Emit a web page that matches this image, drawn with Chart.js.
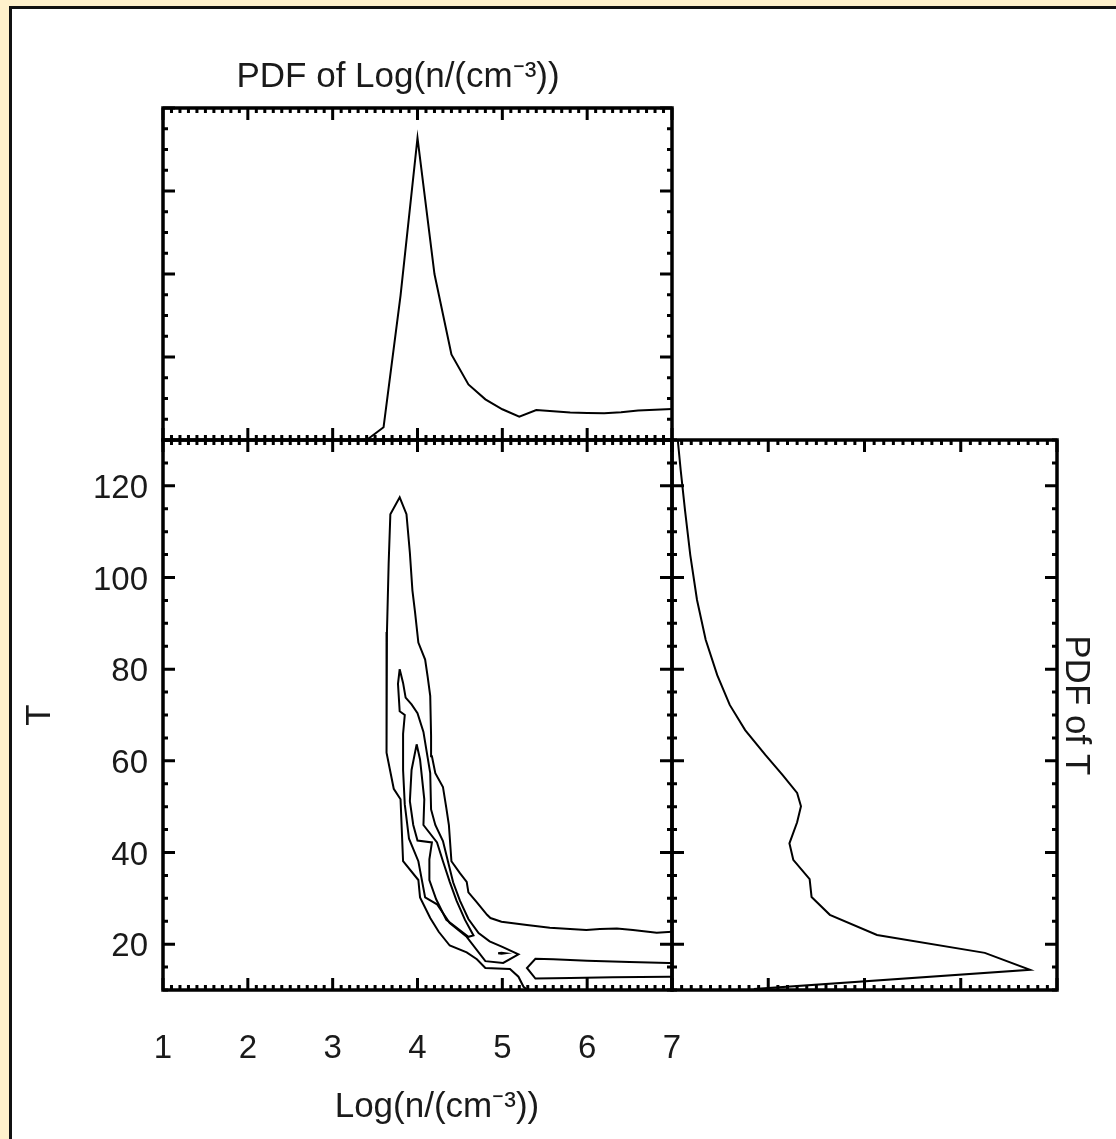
<!DOCTYPE html>
<html>
<head>
<meta charset="utf-8">
<script src="https://cdn.jsdelivr.net/npm/chart.js@4.4.0/dist/chart.umd.min.js"></script>
<style>
  html, body { margin: 0; padding: 0; background: #fff1cc; overflow: hidden; }
  #hoja { position: absolute; left: 9px; top: 6px; width: 1200px; height: 1200px; background: #fff; border-left: 3px solid #111; border-top: 3px solid #111; }
  canvas { position: absolute; left: 0; top: 0; }
</style>
</head>
<body>
<div id="hoja"></div>
<canvas id="pdfN" width="1116" height="1139"></canvas>
<canvas id="contorno" width="1116" height="1139"></canvas>
<canvas id="pdfT" width="1116" height="1139"></canvas>
<script>
// Ejes
var logNTicks = [1, 2, 3, 4, 5, 6, 7];
var tempTicks = [20, 40, 60, 80, 100, 120];

// PDF de Log(n) (panel de arriba)
var logNBins = [3.2, 3.4, 3.6, 3.8, 4.0, 4.2, 4.4, 4.6, 4.8, 5.0, 5.2, 5.4, 5.6, 5.8, 6.0, 6.2, 6.4, 6.6, 6.8, 7.0];
var pdfLogN = [0, 0, 0.0154, 0.174, 0.364, 0.200, 0.103, 0.067, 0.049, 0.037, 0.028, 0.036, 0.0345, 0.033, 0.0325, 0.0323, 0.0335, 0.0356, 0.0365, 0.0372];

// PDF de T (panel derecho)
var tBins = [130, 123.5, 114.7, 104.9, 95.1, 86.4, 78.7, 72.2, 66.7, 61.3, 56.9, 53.0, 50.1, 46.6, 42.0, 38.4, 34.2, 30.3, 26.4, 22.0, 18.1, 14.4, 10.2];
var pdfT = [0.006, 0.009, 0.0135, 0.019, 0.026, 0.035, 0.047, 0.060, 0.076, 0.097, 0.115, 0.130, 0.134, 0.130, 0.122, 0.126, 0.143, 0.145, 0.164, 0.213, 0.325, 0.372, 0.085];

// Contornos (Log n, T)
var contornoA_n = [7.0, 6.82, 6.54, 6.35, 6.15, 5.99, 5.56, 5.29, 4.99, 4.86, 4.82, 4.70, 4.60, 4.58, 4.50, 4.40, 4.37, 4.34, 4.30, 4.21, 4.17, 4.16, 4.15, 4.12, 4.09, 4.01, 3.97, 3.94, 3.91, 3.87, 3.79, 3.68, 3.66, 3.64, 3.63, 3.64, 3.72, 3.80, 3.83, 4.01, 4.03, 4.15, 4.25, 4.38, 4.58, 4.70, 4.80, 5.09, 5.19, 5.25, 5.33];
var contornoA_t = [22.7, 22.5, 23.1, 23.4, 23.3, 23.1, 23.6, 24.2, 24.9, 25.7, 26.4, 29.1, 31.3, 33.6, 35.5, 38.1, 46.0, 49.7, 54.3, 57.3, 61.0, 65.5, 74.2, 78.3, 82.1, 85.8, 92.6, 97.2, 105.4, 113.8, 117.5, 113.8, 103.1, 88.1, 73.0, 61.8, 53.9, 51.6, 38.1, 34.0, 30.2, 25.7, 22.7, 19.7, 18.2, 16.7, 14.8, 14.6, 12.9, 10.7, 9.5];

var contornoB_n = [3.79, 3.77, 3.79, 3.85, 3.83, 3.83, 3.85, 3.90, 4.01, 4.09, 4.23, 4.38, 4.58, 4.80, 5.01, 5.19, 5.00, 4.85, 4.72, 4.60, 4.50, 4.42, 4.36, 4.30, 4.21, 4.16, 4.15, 4.11, 4.07, 4.00, 3.93, 3.86, 3.83, 3.79];
var contornoB_t = [80.0, 76.8, 70.8, 70.0, 65.9, 58.0, 50.5, 43.0, 38.1, 30.2, 28.7, 24.6, 21.6, 16.3, 15.9, 17.8, 19.4, 20.6, 22.4, 25.5, 29.5, 33.5, 38.0, 42.5, 46.0, 49.4, 57.3, 61.8, 66.3, 70.4, 72.3, 73.8, 77.0, 80.0];

var contornoC_n = [3.99, 3.93, 3.91, 3.95, 4.00, 4.17, 4.14, 4.14, 4.22, 4.34, 4.60, 4.66, 4.56, 4.46, 4.38, 4.30, 4.23, 4.07, 4.08, 4.03, 3.99];
var contornoC_t = [63.6, 58.0, 51.2, 46.0, 42.6, 42.2, 38.5, 34.0, 29.8, 25.3, 21.6, 21.9, 25.3, 29.5, 33.6, 38.1, 42.2, 46.0, 51.6, 60.3, 63.6];

var contornoD_n = [4.95, 4.99, 5.03, 4.99, 4.95];
var contornoD_t = [18.0, 18.1, 18.0, 17.9, 18.0];

var bandaL_n = [7.0, 6.96, 6.5, 6.0, 5.6, 5.39, 5.29, 5.39, 5.8, 6.3, 6.96, 7.0];
var bandaL_t = [15.9, 15.9, 16.1, 16.4, 16.7, 16.8, 14.8, 12.5, 12.6, 12.8, 12.9, 12.9];

Chart.defaults.font.family = '"Liberation Sans", Arial, Helvetica, sans-serif';
Chart.defaults.color = '#1a1a1a';

function puntos(xs, ys) {
    return xs.map(function (x, i) { return { x: x, y: ys[i] }; });
}

function linea(data, ancho) {
    return { data: data, showLine: true, borderColor: '#000', borderWidth: ancho, pointRadius: 0, fill: false };
}

// lista de marcas [valor, esMayor]
function marcas(min, max, paso, mayor) {
    var lista = [];
    var n = Math.round((max - min) / paso);
    for (var i = 0; i <= n; i++) {
        var v = min + i * paso;
        var r = v / mayor;
        lista.push([v, Math.abs(r - Math.round(r)) < 1e-6]);
    }
    return lista;
}

// marco y marcas hacia adentro, estilo IDL
var ejesIDL = {
    id: 'ejesIDL',
    afterDatasetsDraw: function (chart, args, o) {
        var ctx = chart.ctx, a = chart.chartArea;
        var sx = chart.scales.x, sy = chart.scales.y;
        ctx.save();
        ctx.strokeStyle = '#000';
        ctx.lineWidth = 3;
        ctx.beginPath();
        marcas(o.x[0], o.x[1], o.x[2], o.x[3]).forEach(function (m) {
            var px = sx.getPixelForValue(m[0]);
            var len = m[1] ? 12 : 5;
            ctx.moveTo(px, a.bottom); ctx.lineTo(px, a.bottom - len);
            ctx.moveTo(px, a.top); ctx.lineTo(px, a.top + len);
        });
        marcas(o.y[0], o.y[1], o.y[2], o.y[3]).forEach(function (m) {
            var py = sy.getPixelForValue(m[0]);
            var len = m[1] ? 12 : 5;
            ctx.moveTo(a.left, py); ctx.lineTo(a.left + len, py);
            ctx.moveTo(a.right, py); ctx.lineTo(a.right - len, py);
        });
        ctx.stroke();
        ctx.lineWidth = 3.5;
        ctx.strokeRect(a.left, a.top, a.right - a.left, a.bottom - a.top);
        ctx.restore();
    }
};

var sinNada = { legend: { display: false }, tooltip: { enabled: false } };

// Panel superior: PDF de Log(n)
new Chart(document.getElementById('pdfN'), {
    type: 'scatter',
    data: { datasets: [linea(puntos(logNBins, pdfLogN), 2)] },
    options: {
        responsive: false, animation: false,
        layout: { padding: { left: 163, right: 444, top: 0, bottom: 699 } },
        plugins: { legend: sinNada.legend, tooltip: sinNada.tooltip, ejesIDL: { x: [1, 7, 0.1, 1], y: [0, 0.4, 0.025, 0.1] } },
        scales: {
            x: {
                type: 'linear', position: 'top', min: 1, max: 7,
                grid: { display: false }, border: { display: false },
                ticks: { display: false },
                afterFit: function (s) { s.height = 108; },
                title: { display: true, text: 'PDF of Log(n/(cm\u207B\u00B3))    ', font: { size: 35 }, padding: { top: 56, bottom: 0 } }
            },
            y: { type: 'linear', min: 0, max: 0.4, display: false }
        }
    },
    plugins: [ejesIDL]
});

// Panel principal: contornos
new Chart(document.getElementById('contorno'), {
    type: 'scatter',
    data: {
        datasets: [
            linea(puntos(contornoA_n, contornoA_t), 2),
            linea(puntos(contornoB_n, contornoB_t), 2),
            linea(puntos(contornoC_n, contornoC_t), 2),
            linea(puntos(contornoD_n, contornoD_t), 2),
            linea(puntos(bandaL_n, bandaL_t), 2)
        ]
    },
    options: {
        responsive: false, animation: false,
        layout: { padding: { left: 0, right: 444, top: 440, bottom: 0 } },
        plugins: { legend: sinNada.legend, tooltip: sinNada.tooltip, ejesIDL: { x: [1, 7, 0.1, 1], y: [10, 130, 5, 20] } },
        scales: {
            x: {
                type: 'linear', position: 'bottom', min: 1, max: 7,
                grid: { display: false }, border: { display: false },
                afterBuildTicks: function (s) { s.ticks = logNTicks.map(function (v) { return { value: v }; }); },
                afterFit: function (s) { s.height = 149; },
                ticks: { padding: 31, maxRotation: 0, autoSkip: false, font: { size: 33 } },
                title: { display: true, text: '    Log(n/(cm\u207B\u00B3))', font: { size: 35 }, padding: { top: 0, bottom: 11 } }
            },
            y: {
                type: 'linear', position: 'left', min: 10, max: 130,
                grid: { display: false }, border: { display: false },
                afterBuildTicks: function (s) { s.ticks = tempTicks.map(function (v) { return { value: v }; }); },
                afterFit: function (s) { s.width = 163; },
                ticks: { padding: 7, labelOffset: 3, autoSkip: false, font: { size: 33 } },
                title: { display: true, text: 'T', font: { size: 35 }, padding: { top: 19, bottom: 0 } }
            }
        }
    },
    plugins: [ejesIDL]
});

// Panel derecho: PDF de T
new Chart(document.getElementById('pdfT'), {
    type: 'scatter',
    data: { datasets: [linea(puntos(pdfT, tBins), 2)] },
    options: {
        responsive: false, animation: false,
        layout: { padding: { left: 672, right: 0, top: 440, bottom: 149 } },
        plugins: { legend: sinNada.legend, tooltip: sinNada.tooltip, ejesIDL: { x: [0, 0.4, 0.01, 0.1], y: [10, 130, 5, 20] } },
        scales: {
            x: { type: 'linear', min: 0, max: 0.4, display: false },
            y: {
                type: 'linear', position: 'right', min: 10, max: 130,
                grid: { display: false }, border: { display: false },
                ticks: { display: false },
                afterFit: function (s) { s.width = 59; },
                title: { display: true, text: 'PDF of T  ', font: { size: 35 }, padding: { top: 19, bottom: 0 } }
            }
        }
    },
    plugins: [ejesIDL]
});
</script>
</body>
</html>
